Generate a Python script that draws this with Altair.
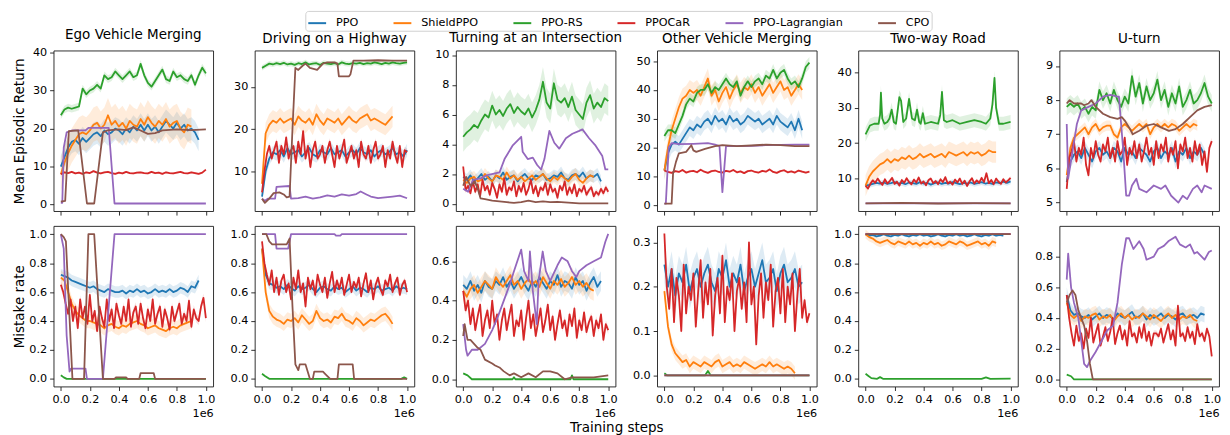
import altair as alt
import numpy as np
import pandas as pd

SERIES = ["PPO", "ShieldPPO", "PPO-RS", "PPOCaR", "PPO-Lagrangian", "CPO"]
COLORS = ["#1f77b4", "#ff7f0e", "#2ca02c", "#d62728", "#9467bd", "#8c564b"]
TITLES = ["Ego Vehicle Merging", "Driving on a Highway", "Turning at an Intersection",
          "Other Vehicle Merging", "Two-way Road", "U-turn"]
ROW_LABELS = ["Mean Episodic Return", "Mistake rate"]
X_TICKS = [0.0, 0.2, 0.4, 0.6, 0.8, 1.0]

# ---------------- Ego Vehicle Merging ----------------
ego_ret_ppo = [10, 12.5, 15, 16.5, 17, 16, 17.5, 16.5, 17.5, 18.5, 19, 18, 19.5, 18.5, 19, 20, 19.5, 18.5, 20, 19,
               20.5, 19.5, 21, 19.5, 21, 19.5, 20.5, 19, 20.5, 22, 21, 20, 21.5, 20, 21, 19.5, 20, 19, 17]
ego_ret_shield = [8, 11, 13.5, 15.5, 17, 18.5, 19, 18.5, 19.5, 21, 21.5, 20, 21, 23.5, 21, 22, 20.5, 21.5, 20, 22,
                  21, 20.5, 22.5, 21, 23, 21.5, 20.5, 22, 21, 22.5, 20.5, 21.5, 22, 20, 19, 21, 20.5]
ego_ret_rs = [23.5, 25, 25.5, 25.2, 25.5, 25.8, 30.5, 29, 30, 30.5, 31.5, 30.5, 34, 33, 33.5, 35, 34, 33, 34, 35,
              33.5, 34, 37, 34, 32, 31, 32.5, 34, 35.5, 33, 32.5, 35, 33.5, 34, 33, 32.5, 34, 31.5, 34, 36, 34.5]
ego_ret_car = [8, 8.5, 8.3, 8.6, 8.2, 8.4, 8.1, 8.5, 8.3, 8.8, 8.4, 8.2, 8.5, 8.6, 8.3, 8.1, 8.4, 8.2, 8.6, 8.3,
               8.2, 8.4, 8.5, 8.3, 8.2, 8.6, 8.3, 8.4, 8.1, 8.5, 8.3, 8.2, 8.4, 8.6, 8.3, 8.2, 8.5, 8.3, 8.1, 8.4, 9.2]
ego_ret_lag_x = [0, 0.01, 0.02, 0.04, 0.08, 0.17, 0.19, 0.33, 0.37, 1.0]
ego_ret_lag_y = [0.5, 0.5, 15, 19, 19.5, 19.5, 20.2, 20.2, 0.3, 0.3]
ego_ret_cpo_x = [0, 0.03, 0.045, 0.055, 0.12, 0.18, 0.23, 0.29, 0.32, 0.4, 0.45, 0.5, 0.55, 0.6, 0.65, 0.7, 0.8, 0.9, 1.0]
ego_ret_cpo_y = [0.8, 1.0, 12, 19.3, 19.5, 0.3, 0.3, 19, 19.5, 19.8, 19.6, 20.3, 19.5, 18.6, 18.8, 19.5, 19.8, 19.6, 19.8]

ego_mis_ppo = [0.72, 0.71, 0.7, 0.68, 0.67, 0.66, 0.65, 0.64, 0.63, 0.64, 0.62, 0.61, 0.6, 0.62, 0.61, 0.6, 0.6, 0.61,
               0.59, 0.61, 0.6, 0.62, 0.6, 0.61, 0.59, 0.6, 0.62, 0.6, 0.61, 0.6, 0.62, 0.6, 0.61, 0.63, 0.62, 0.6,
               0.64, 0.63, 0.68]
ego_mis_shield = [0.7, 0.68, 0.6, 0.52, 0.47, 0.44, 0.42, 0.4, 0.4, 0.39, 0.38, 0.37, 0.35, 0.37, 0.38, 0.36, 0.35,
                  0.37, 0.36, 0.38, 0.39, 0.4, 0.38, 0.37, 0.35, 0.36, 0.37, 0.35, 0.34, 0.33, 0.35, 0.36, 0.35, 0.37,
                  0.38, 0.39, 0.4]
ego_mis_car = [0.65, 0.6, 0.52, 0.45, 0.55, 0.4, 0.5, 0.35, 0.55, 0.42, 0.5, 0.38, 0.58, 0.4, 0.47, 0.33, 0.5, 0.42,
               0.36, 0.55, 0.4, 0.48, 0.35, 0.52, 0.44, 0.38, 0.5, 0.4, 0.55, 0.36, 0.46, 0.5, 0.38, 0.52, 0.42, 0.35,
               0.48, 0.4, 0.55, 0.38, 0.45, 0.5, 0.36, 0.48, 0.42, 0.34, 0.5, 0.4, 0.46, 0.52, 0.38, 0.45, 0.4, 0.54,
               0.36, 0.48, 0.42, 0.4, 0.5, 0.56, 0.42]
ego_mis_rs_x = [0, 0.02, 0.04, 1.0]
ego_mis_rs_y = [0.025, 0.01, 0.0, 0.0]
ego_mis_lag_x = [0, 0.02, 0.04, 0.06, 0.07, 0.17, 0.18, 0.29, 0.37, 1.0]
ego_mis_lag_y = [1.0, 0.9, 0.3, 0.05, 0.07, 0.07, 0.0, 0.0, 1.0, 1.0]
ego_mis_cpo_x = [0, 0.02, 0.035, 0.08, 0.16, 0.19, 0.23, 0.29, 0.37, 0.38, 0.45, 0.46, 0.54, 0.55, 0.64, 0.65, 1.0]
ego_mis_cpo_y = [1.0, 0.98, 0.95, 0.0, 0.0, 1.0, 1.0, 0.0, 0.0, 0.01, 0.01, 0.0, 0.0, 0.04, 0.04, 0.0, 0.0]

# ---------------- Driving on a Highway ----------------
hw_ret_ppo = [4, 10, 13, 14.5, 14, 15, 13.5, 15.5, 14, 14.5, 15, 13.5, 14.5, 15.5, 14, 13.5, 15, 14.5, 14, 15.5,
              14, 14.5, 15, 13.5, 14.5, 15, 14, 15.5, 14.5, 14, 15, 13.5, 14.5, 15, 14, 14.5, 15.5, 14, 14.5, 13.5, 15]
hw_ret_shield = [7, 19, 21, 22, 21.5, 22.5, 21.5, 22, 22.5, 21, 23, 22, 21.5, 22.5, 21, 23.5, 22, 21, 22.5, 22,
                 21.5, 22.5, 21, 22, 23, 22, 21.5, 22.5, 23, 23.5, 22, 22.5, 22, 21.5, 21, 22, 23]
hw_ret_rs = [34.5, 35, 35.5, 35.3, 35.6, 35.4, 35.7, 35.3, 35.5, 35.2, 35.6, 35.4, 35.8, 35.3, 35.5, 35.6, 35.2,
             35.7, 35.5, 35.4, 35.6, 35.3, 35.8, 35.5, 35.4, 35.6, 35.5, 35.7, 35.4, 35.6, 35.5, 35.8, 35.6, 35.4,
             35.7, 35.5, 35.8, 35.6, 35.5, 35.7, 35.8]
hw_ret_car = [5, 10, 14, 16, 13, 15, 17, 12, 16, 14, 18, 13, 15, 16, 12, 17, 14, 19.5, 13, 16, 11, 15, 17, 13, 14,
              16, 12, 15, 17, 14, 11, 16, 13, 15, 17.5, 12, 14, 16, 13, 15, 11, 17, 14, 13, 16, 12, 15, 17, 13, 14,
              16, 11, 15, 13, 17, 14, 12, 16, 11, 15, 14.5]
hw_ret_lag_x = [0, 0.02, 0.04, 0.09, 0.1, 0.19, 0.2, 0.25, 0.3, 0.35, 0.4, 0.45, 0.5, 0.55, 0.6, 0.65, 0.68, 0.72,
                0.75, 0.8, 0.85, 0.9, 0.95, 1.0]
hw_ret_lag_y = [3.5, 3, 3.5, 3.5, 6.3, 6.5, 3.5, 3.6, 4, 3.5, 3.8, 4.3, 4, 4.5, 4.2, 4.6, 5.2, 4.5, 4, 3.6, 3.8,
                4, 4.2, 3.6]
hw_ret_cpo_x = [0, 0.02, 0.05, 0.08, 0.12, 0.15, 0.17, 0.19, 0.21, 0.23, 0.25, 0.28, 0.3, 0.33, 0.38, 0.42, 0.45,
                0.5, 0.52, 0.53, 0.6, 0.61, 0.63, 0.7, 0.8, 0.9, 1.0]
hw_ret_cpo_y = [3.5, 2.5, 3.5, 4.8, 5, 4.5, 3.8, 4, 20, 34.5, 34, 35, 35.5, 34.5, 34, 35.5, 35.8, 35.8, 35.5, 32.5,
                32.5, 33, 36.2, 36.2, 36.3, 36.2, 36.2]

hw_mis_ppo = [0.9, 0.72, 0.66, 0.65, 0.63, 0.64, 0.62, 0.65, 0.63, 0.61, 0.64, 0.62, 0.63, 0.65, 0.62, 0.6, 0.63,
              0.64, 0.62, 0.61, 0.64, 0.62, 0.63, 0.6, 0.62, 0.64, 0.61, 0.63, 0.62, 0.6, 0.63, 0.62, 0.64, 0.61,
              0.62, 0.63, 0.61, 0.64, 0.62, 0.63, 0.62]
hw_mis_shield = [0.9, 0.6, 0.47, 0.43, 0.41, 0.4, 0.38, 0.41, 0.4, 0.42, 0.39, 0.44, 0.41, 0.38, 0.4, 0.47, 0.42,
                 0.4, 0.41, 0.39, 0.43, 0.42, 0.45, 0.41, 0.4, 0.38, 0.42, 0.4, 0.37, 0.39, 0.41, 0.4, 0.42, 0.44,
                 0.45, 0.42, 0.38]
hw_mis_car = [0.95, 0.8, 0.72, 0.65, 0.75, 0.6, 0.7, 0.58, 0.68, 0.72, 0.6, 0.66, 0.55, 0.7, 0.62, 0.75, 0.6, 0.66,
              0.5, 0.7, 0.62, 0.68, 0.58, 0.72, 0.65, 0.6, 0.7, 0.56, 0.66, 0.74, 0.6, 0.68, 0.62, 0.7, 0.58, 0.65,
              0.72, 0.6, 0.67, 0.63, 0.7, 0.57, 0.66, 0.73, 0.6, 0.68, 0.55, 0.65, 0.7, 0.62, 0.58, 0.68, 0.64, 0.72,
              0.6, 0.66, 0.7, 0.58, 0.65, 0.68, 0.6]
hw_mis_rs_x = [0, 0.02, 0.05, 0.96, 0.98, 1.0]
hw_mis_rs_y = [0.035, 0.02, 0.0, 0.0, 0.01, 0.0]
hw_mis_lag_x = [0, 0.09, 0.1, 0.18, 0.2, 0.5, 0.51, 0.54, 0.55, 1.0]
hw_mis_lag_y = [1.0, 1.0, 0.9, 0.9, 1.0, 1.0, 0.99, 0.99, 1.0, 1.0]
hw_mis_cpo_x = [0, 0.03, 0.05, 0.07, 0.17, 0.19, 0.21, 0.23, 0.25, 0.26, 0.3, 0.33, 0.35, 0.36, 0.42, 0.44, 0.47,
                0.52, 0.53, 0.625, 0.635, 1.0]
hw_mis_cpo_y = [1.0, 1.0, 0.95, 0.93, 0.93, 0.97, 0.5, 0.1, 0.06, 0.1, 0.1, 0.0, 0.0, 0.05, 0.05, 0.03, 0.0, 0.0,
                0.1, 0.1, 0.0, 0.0]

# ---------------- Turning at an Intersection ----------------
int_ret_ppo = [1.8, 1.6, 1.9, 1.5, 1.7, 2.0, 1.6, 1.8, 1.5, 1.9, 1.7, 2.1, 1.6, 1.8, 1.9, 1.5, 1.8, 2.0, 1.7, 1.6,
               1.9, 1.8, 2.0, 1.6, 1.7, 1.9, 1.8, 2.1, 1.7, 1.6, 1.9, 2.0, 1.8, 2.1, 1.7, 1.9, 1.8, 2.0, 1.5]
int_ret_shield = [1.6, 1.4, 1.7, 1.8, 1.5, 1.6, 2.0, 1.7, 1.5, 1.9, 1.8, 1.6, 2.1, 1.7, 1.9, 1.6, 1.8, 1.5, 1.7,
                  1.9, 1.6, 1.8, 2.0, 1.7, 1.5, 1.8, 1.6, 1.9, 1.7, 1.5, 1.8, 2.0, 1.6, 1.4, 1.7, 1.9, 1.8]
int_ret_rs = [4.5, 4.8, 5.0, 5.3, 5.1, 5.6, 6.0, 5.8, 6.6, 6.0, 6.3, 5.9, 6.4, 6.7, 6.1, 6.5, 6.2, 6.0, 6.4, 5.8,
              6.3, 7.0, 8.2, 6.8, 6.4, 8.1, 7.0, 6.8, 7.1, 6.5, 7.2, 6.3, 6.0, 5.7, 6.8, 7.3, 6.4, 6.8, 6.5, 7.1, 6.9]
int_ret_car = [2.5, 0.9, 1.2, 0.7, 1.5, 0.8, 1.3, 0.5, 1.6, 0.9, 1.2, 0.6, 1.4, 1.0, 0.4, 1.3, 0.8, 1.7, 0.6, 1.1,
               0.9, 1.5, 0.5, 1.2, 0.8, 1.4, 0.6, 1.0, 1.6, 0.7, 1.2, 0.5, 1.1, 0.9, 1.4, 0.6, 1.3, 0.8, 1.0, 0.4,
               1.2, 0.9, 1.5, 0.6, 1.1, 0.7, 1.3, 0.5, 1.0, 0.8, 1.2, 0.6, 0.9, 1.1, 0.5, 0.8, 0.6, 1.0, 0.7, 1.1, 0.8]
int_ret_lag_x = [0, 0.034, 0.068, 0.12, 0.16, 0.25, 0.285, 0.34, 0.4, 0.41, 0.445, 0.48, 0.51, 0.537, 0.56, 0.594,
                 0.628, 0.662, 0.708, 0.753, 0.8, 0.822, 0.868, 0.913, 0.959, 0.98, 1.0]
int_ret_lag_y = [1.0, 0.8, 1.6, 1.7, 1.9, 2.1, 3.0, 3.9, 4.5, 3.5, 3.0, 3.1, 2.6, 2.3, 3.0, 4.9, 4.1, 3.7, 4.4, 4.7,
                 4.9, 5.0, 4.4, 3.9, 3.2, 2.3, 2.3]
int_ret_cpo_x = [0, 0.02, 0.05, 0.08, 0.1, 0.12, 0.15, 0.2, 0.25, 0.3, 0.35, 0.4, 0.45, 0.5, 0.55, 0.6, 0.65, 0.7,
                 0.75, 0.8, 0.9, 1.0]
int_ret_cpo_y = [1.2, 1.8, 1.2, 1.5, 1.0, 0.35, 0.3, 0.2, 0.15, 0.1, 0.05, 0.1, 0.2, 0.1, 0.15, 0.1, 0.12, 0.08,
                 0.05, 0.02, 0.02, 0.02]

int_mis_ppo = [0.48, 0.46, 0.5, 0.45, 0.48, 0.44, 0.5, 0.47, 0.46, 0.5, 0.48, 0.52, 0.47, 0.5, 0.46, 0.49, 0.52,
               0.48, 0.45, 0.5, 0.47, 0.52, 0.49, 0.46, 0.5, 0.48, 0.53, 0.47, 0.5, 0.49, 0.46, 0.52, 0.48, 0.5,
               0.45, 0.49, 0.52, 0.47, 0.5]
int_mis_shield = [0.45, 0.42, 0.46, 0.48, 0.44, 0.47, 0.5, 0.48, 0.46, 0.52, 0.49, 0.47, 0.5, 0.53, 0.48, 0.5,
                  0.46, 0.49, 0.51, 0.48, 0.5, 0.47, 0.52, 0.49, 0.46, 0.5, 0.48, 0.51, 0.47, 0.49, 0.52, 0.48, 0.5,
                  0.47, 0.49, 0.46, 0.45]
int_mis_car = [0.45, 0.35, 0.4, 0.28, 0.36, 0.25, 0.32, 0.38, 0.22, 0.3, 0.35, 0.26, 0.4, 0.28, 0.33, 0.2, 0.3,
               0.36, 0.25, 0.32, 0.38, 0.22, 0.3, 0.27, 0.35, 0.2, 0.31, 0.4, 0.26, 0.33, 0.22, 0.29, 0.36, 0.24,
               0.3, 0.38, 0.25, 0.32, 0.2, 0.28, 0.35, 0.26, 0.3, 0.22, 0.33, 0.27, 0.36, 0.21, 0.3, 0.25, 0.34,
               0.24, 0.29, 0.32, 0.22, 0.3, 0.26, 0.33, 0.2, 0.28, 0.25]
int_mis_rs_x = [0, 0.03, 0.06, 0.34, 0.35, 0.36, 0.74, 0.75, 0.76, 1.0]
int_mis_rs_y = [0.03, 0.02, 0.0, 0.0, 0.01, 0.0, 0.0, 0.02, 0.0, 0.0]
int_mis_lag_x = [0, 0.02, 0.03, 0.06, 0.1, 0.15, 0.2, 0.24, 0.28, 0.32, 0.35, 0.4, 0.42, 0.45, 0.46, 0.48, 0.507,
                 0.52, 0.548, 0.57, 0.6, 0.65, 0.68, 0.72, 0.75, 0.78, 0.8, 0.85, 0.9, 0.95, 0.98, 1.0]
int_mis_lag_y = [0.28, 0.15, 0.12, 0.15, 0.15, 0.18, 0.25, 0.32, 0.4, 0.48, 0.55, 0.66, 0.55, 0.5, 0.65, 0.45,
                 0.28, 0.5, 0.65, 0.55, 0.5, 0.58, 0.62, 0.6, 0.55, 0.52, 0.55, 0.58, 0.6, 0.62, 0.7, 0.74]
int_mis_cpo_x = [0, 0.01, 0.03, 0.05, 0.1, 0.12, 0.15, 0.2, 0.22, 0.25, 0.28, 0.32, 0.35, 0.4, 0.45, 0.5, 0.55,
                 0.6, 0.65, 0.7, 0.75, 0.8, 0.9, 1.0]
int_mis_cpo_y = [0.22, 0.28, 0.2, 0.2, 0.16, 0.15, 0.1, 0.08, 0.07, 0.06, 0.04, 0.02, 0.03, 0.01, 0.03, 0.01, 0.04,
                 0.04, 0.03, 0.0, 0.01, 0.01, 0.01, 0.02]

# ---------------- Other Vehicle Merging ----------------
om_ret_ppo = [12, 18, 21, 22, 21, 23, 25, 27, 26, 28, 27, 29, 30, 28, 31, 29, 30, 28, 31, 29, 30, 28, 29, 31, 30,
              29, 30, 28, 29, 30, 28, 31, 29, 28, 27, 29, 26, 30, 26]
om_ret_shield = [12, 20, 26, 30, 34, 37, 38, 40, 39, 40, 38, 41, 44, 38, 40, 36, 39, 41, 37, 40, 42, 39, 41, 40,
                 42, 39, 41, 38, 40, 42, 39, 41, 43, 40, 41, 38, 40, 42, 40]
om_ret_rs = [24, 26, 26, 25, 28, 31, 35, 37, 36, 39, 40, 40, 42, 39, 41, 40, 42, 44, 42, 41, 43, 38, 41, 43, 41,
             43, 44, 42, 45, 44, 47, 44, 46, 47, 44, 42, 43, 41, 44, 48, 49.5]
om_ret_car = [12, 11.5, 11.2, 11.8, 11.5, 12.2, 11.3, 11.7, 11.9, 11.4, 12.3, 11.6, 11.2, 11.8, 12.0, 11.5, 11.3,
              11.9, 11.6, 12.2, 11.4, 11.7, 11.1, 11.8, 12.0, 11.5, 11.3, 11.9, 11.6, 12.4, 11.5, 11.2, 11.8, 12.1,
              11.4, 11.7, 11.3, 12.0, 11.6, 11.3, 11.6]
om_ret_lag_x = [0, 0.01, 0.03, 0.05, 0.1, 0.2, 0.3, 0.35, 0.38, 0.4, 0.425, 0.5, 0.6, 0.7, 0.8, 0.9, 1.0]
om_ret_lag_y = [0.5, 0.5, 20, 21.5, 21.2, 21.3, 21.5, 21, 20.5, 4.5, 20.5, 20.5, 20.6, 20.8, 20.9, 21, 21]
om_ret_cpo_x = [0, 0.05, 0.06, 0.08, 0.1, 0.15, 0.186, 0.2, 0.22, 0.28, 0.35, 0.4, 0.5, 0.6, 0.7, 0.8, 0.9, 1.0]
om_ret_cpo_y = [0.5, 0.5, 11, 15, 18, 18.5, 20.8, 19, 18.5, 19.5, 20.5, 20.8, 20.5, 20.7, 21, 20.8, 20.5, 20.5]

om_mis_ppo = [0.25, 0.2, 0.24, 0.18, 0.23, 0.21, 0.25, 0.19, 0.22, 0.24, 0.2, 0.23, 0.25, 0.21, 0.19, 0.24, 0.22,
              0.26, 0.2, 0.23, 0.21, 0.25, 0.19, 0.22, 0.24, 0.2, 0.23, 0.26, 0.21, 0.22, 0.24, 0.19, 0.23, 0.25,
              0.21, 0.22, 0.24, 0.2, 0.21]
om_mis_shield = [0.19, 0.11, 0.07, 0.05, 0.04, 0.03, 0.035, 0.02, 0.03, 0.025, 0.02, 0.03, 0.025, 0.02, 0.03,
                 0.035, 0.02, 0.025, 0.03, 0.02, 0.025, 0.02, 0.03, 0.025, 0.02, 0.015, 0.02, 0.025, 0.02, 0.03,
                 0.02, 0.025, 0.02, 0.015, 0.02, 0.015, 0.005]
om_mis_car = [0.32, 0.2, 0.15, 0.24, 0.12, 0.22, 0.18, 0.1, 0.25, 0.14, 0.2, 0.17, 0.23, 0.11, 0.19, 0.26, 0.13,
              0.21, 0.16, 0.24, 0.09, 0.18, 0.22, 0.14, 0.27, 0.12, 0.2, 0.17, 0.23, 0.1, 0.19, 0.22, 0.15, 0.21,
              0.12, 0.3, 0.16, 0.2, 0.07, 0.18, 0.23, 0.13, 0.21, 0.17, 0.25, 0.11, 0.19, 0.22, 0.14, 0.24, 0.12,
              0.2, 0.16, 0.23, 0.1, 0.18, 0.24, 0.13, 0.17, 0.12, 0.14]
om_mis_rs_x = [0, 0.02, 0.04, 0.28, 0.3, 0.32, 1.0]
om_mis_rs_y = [0.005, 0.0, 0.0, 0.0, 0.01, 0.0, 0.0]
om_mis_lag_x = [0, 1.0]
om_mis_lag_y = [0.0, 0.0]
om_mis_cpo_x = [0, 1.0]
om_mis_cpo_y = [0.0, 0.0]

# ---------------- Two-way Road ----------------
tw_ret_ppo = [8, 8.2, 8.5, 8.8, 8.6, 8.9, 8.5, 8.7, 9.0, 8.6, 8.8, 8.4, 8.9, 8.7, 8.5, 9.0, 8.6, 8.8, 8.3, 8.7,
              8.9, 8.5, 8.8, 8.6, 9.0, 8.7, 8.4, 8.8, 8.6, 8.9, 8.5, 8.7, 9.0, 8.6, 8.8, 8.5, 8.9, 8.7, 9.1, 8.8, 9.2]
tw_ret_shield = [8, 10.5, 12, 13, 14, 14.5, 15.5, 14.5, 15.5, 15, 16, 15.5, 16.5, 15.5, 16, 17, 16, 16.5, 17, 16,
                 16.5, 17, 16, 17.5, 17, 16.5, 17, 17.5, 16.5, 17.5, 17, 17.5, 16.5, 17, 18, 17.5, 17.5]
tw_ret_rs_x = [0, 0.03, 0.06, 0.09, 0.1, 0.106, 0.115, 0.13, 0.15, 0.165, 0.18, 0.195, 0.21, 0.233, 0.245, 0.26,
               0.28, 0.3, 0.32, 0.34, 0.355, 0.37, 0.38, 0.395, 0.41, 0.45, 0.5, 0.515, 0.527, 0.54, 0.56, 0.6,
               0.65, 0.7, 0.75, 0.8, 0.83, 0.86, 0.875, 0.889, 0.9, 0.92, 0.95, 1.0]
tw_ret_rs_y = [22.5, 25, 25.5, 25.5, 28, 34.3, 27, 25.5, 26, 27, 29.5, 26, 25.5, 33, 32, 26, 27, 32.5, 27, 26.5,
               29.5, 26, 25.5, 28.5, 25.5, 26, 25.5, 28, 34.5, 26.5, 26, 26.5, 25.5, 26, 26.5, 26, 25.5, 27, 31,
               38.5, 30, 25.5, 25.5, 26]
tw_ret_car = [8, 7.2, 8.5, 9.5, 8.8, 10, 9, 8.2, 9.8, 8.6, 9.3, 10.2, 8.5, 9.1, 8.0, 9.6, 8.8, 10.1, 9.0, 8.4,
              9.7, 8.9, 10.3, 8.6, 9.2, 8.1, 9.5, 10.0, 8.7, 9.3, 8.4, 9.8, 9.0, 10.4, 8.6, 9.1, 8.3, 9.7, 8.9,
              10.0, 8.5, 9.4, 7.9, 9.2, 10.1, 8.6, 9.5, 8.8, 10.2, 9.0, 11.5, 8.7, 9.6, 8.4, 10.0, 9.1, 8.5, 9.8,
              8.9, 9.5, 10.2]
tw_ret_lag_x = [0, 0.5, 1.0]
tw_ret_lag_y = [3.0, 3.0, 3.0]
tw_ret_cpo_x = [0, 0.25, 0.5, 0.75, 1.0]
tw_ret_cpo_y = [3.0, 3.1, 2.95, 3.05, 3.0]

tw_mis_ppo = [1.0, 0.99, 0.995, 0.985, 0.99, 1.0, 0.99, 0.985, 0.995, 0.99, 1.0, 0.99, 0.985, 0.995, 0.99, 1.0,
              0.99, 0.995, 0.985, 0.99, 1.0, 0.99, 0.985, 0.995, 0.99, 1.0, 0.99, 0.995, 0.985, 0.99, 1.0, 0.99,
              0.985, 0.995, 0.99, 1.0, 0.99, 0.995, 0.99]
tw_mis_shield = [1.0, 0.98, 0.97, 0.95, 0.94, 0.95, 0.96, 0.94, 0.93, 0.95, 0.94, 0.93, 0.95, 0.93, 0.94, 0.92,
                 0.94, 0.93, 0.95, 0.93, 0.94, 0.92, 0.93, 0.95, 0.94, 0.93, 0.95, 0.94, 0.92, 0.93, 0.94, 0.95,
                 0.93, 0.94, 0.92, 0.95, 0.94]
tw_mis_rs_x = [0, 0.02, 0.04, 0.08, 0.1, 0.12, 0.8, 0.83, 0.86, 1.0]
tw_mis_rs_y = [0.035, 0.02, 0.005, 0.0, 0.012, 0.0, 0.0, 0.01, 0.0, 0.002]
tw_mis_car_x = [0, 1.0]
tw_mis_car_y = [1.0, 1.0]
tw_mis_lag_x = [0, 1.0]
tw_mis_lag_y = [1.0, 1.0]
tw_mis_cpo_x = [0, 1.0]
tw_mis_cpo_y = [1.0, 1.0]

# ---------------- U-turn ----------------
ut_ret_ppo = [5.6, 6.2, 6.4, 6.5, 6.3, 6.6, 6.4, 6.2, 6.5, 6.6, 6.4, 6.5, 6.3, 6.6, 6.5, 6.2, 6.6, 6.4, 6.5, 6.3,
              6.6, 6.5, 6.4, 6.2, 6.5, 6.6, 6.3, 6.5, 6.4, 6.6, 6.2, 6.5, 6.4, 6.6, 6.3, 6.5, 6.4, 6.6, 6.4]
ut_ret_shield = [5.8, 6.6, 6.9, 7.0, 7.1, 7.2, 7.0, 7.2, 7.3, 7.1, 7.2, 7.25, 7.25, 7.0, 6.9, 7.2, 7.3, 7.2, 7.1,
                 7.2, 7.3, 7.2, 7.3, 7.0, 7.2, 7.3, 7.2, 7.3, 7.2, 7.3, 7.25, 7.1, 7.2, 7.3, 7.2, 7.3, 7.25]
ut_ret_rs = [7.8, 7.9, 7.8, 7.9, 7.7, 7.8, 7.6, 7.8, 7.7, 8.3, 8.0, 8.2, 7.9, 8.3, 8.0, 7.8, 8.1, 7.9, 8.7, 8.1,
             8.5, 7.9, 8.4, 8.0, 8.2, 8.6, 8.0, 8.3, 7.8, 8.2, 7.9, 8.4, 7.8, 8.0, 8.3, 7.9, 8.0, 8.2, 8.5, 8.1, 7.9]
ut_ret_car = [5.4, 6.3, 6.5, 6.8, 6.2, 6.6, 6.4, 6.9, 6.1, 5.8, 6.6, 6.3, 6.8, 6.4, 6.2, 6.7, 6.5, 6.9, 6.3, 6.6,
              6.2, 6.8, 6.4, 6.5, 6.9, 6.1, 6.6, 6.4, 6.8, 6.3, 6.7, 6.2, 6.5, 6.9, 6.4, 6.6, 6.1, 6.8, 6.3, 6.7,
              6.5, 6.9, 6.2, 6.6, 6.4, 6.8, 6.0, 6.7, 6.5, 6.9, 6.3, 6.6, 6.2, 6.8, 6.4, 6.7, 6.1, 6.5, 5.9, 6.6, 6.8]
ut_ret_lag_x = [0, 0.01, 0.04, 0.07, 0.1, 0.15, 0.2, 0.25, 0.3, 0.35, 0.36, 0.39, 0.41, 0.43, 0.45, 0.48, 0.5,
                0.55, 0.6, 0.65, 0.68, 0.72, 0.77, 0.8, 0.83, 0.87, 0.9, 0.93, 0.95, 1.0]
ut_ret_lag_y = [7.3, 5.7, 6.5, 7.3, 7.7, 7.8, 7.9, 8.1, 8.15, 8.1, 8.1, 6.5, 5.2, 5.2, 5.5, 5.7, 5.4, 5.3, 5.5,
                5.4, 5.5, 5.2, 5.0, 5.2, 5.1, 5.4, 5.5, 5.3, 5.5, 5.4]
ut_ret_cpo_x = [0, 0.02, 0.05, 0.1, 0.12, 0.15, 0.17, 0.2, 0.25, 0.3, 0.35, 0.38, 0.4, 0.43, 0.455, 0.5, 0.55,
                0.6, 0.65, 0.705, 0.75, 0.8, 0.85, 0.9, 0.95, 1.0]
ut_ret_cpo_y = [7.9, 8.0, 7.9, 7.9, 7.85, 7.9, 8.0, 7.8, 7.6, 7.5, 7.45, 7.5, 7.4, 7.2, 7.0, 7.1, 7.25, 7.3, 7.2,
                7.1, 7.15, 7.3, 7.5, 7.7, 7.8, 7.85]

ut_mis_ppo = [0.55, 0.45, 0.42, 0.43, 0.41, 0.4, 0.42, 0.39, 0.41, 0.43, 0.4, 0.42, 0.41, 0.39, 0.43, 0.41, 0.4,
              0.42, 0.44, 0.4, 0.41, 0.43, 0.39, 0.42, 0.4, 0.41, 0.43, 0.4, 0.42, 0.41, 0.39, 0.42, 0.43, 0.4,
              0.41, 0.42, 0.4, 0.43, 0.42]
ut_mis_shield = [0.5, 0.42, 0.4, 0.42, 0.38, 0.41, 0.4, 0.42, 0.43, 0.39, 0.41, 0.4, 0.42, 0.38, 0.41, 0.43, 0.4,
                 0.42, 0.39, 0.41, 0.4, 0.43, 0.41, 0.39, 0.42, 0.4, 0.38, 0.41, 0.43, 0.4, 0.42, 0.39, 0.41, 0.4,
                 0.42, 0.39, 0.38]
ut_mis_car = [0.55, 0.4, 0.3, 0.22, 0.35, 0.25, 0.3, 0.2, 0.33, 0.27, 0.4, 0.24, 0.3, 0.36, 0.22, 0.28, 0.34,
              0.25, 0.31, 0.4, 0.23, 0.3, 0.35, 0.26, 0.32, 0.22, 0.38, 0.28, 0.3, 0.24, 0.34, 0.27, 0.36, 0.25,
              0.31, 0.22, 0.3, 0.3, 0.28, 0.33, 0.24, 0.3, 0.36, 0.26, 0.32, 0.22, 0.48, 0.28, 0.3, 0.25, 0.34,
              0.27, 0.31, 0.23, 0.36, 0.28, 0.3, 0.25, 0.33, 0.28, 0.15]
ut_mis_rs_x = [0, 0.03, 0.05, 1.0]
ut_mis_rs_y = [0.03, 0.02, 0.0, 0.0]
ut_mis_lag_x = [0, 0.01, 0.03, 0.05, 0.08, 0.1, 0.12, 0.14, 0.16, 0.2, 0.24, 0.28, 0.32, 0.35, 0.38, 0.41, 0.43,
                0.46, 0.5, 0.53, 0.55, 0.6, 0.63, 0.67, 0.7, 0.75, 0.78, 0.82, 0.85, 0.88, 0.9, 0.95, 0.98, 1.0]
ut_mis_lag_y = [0.65, 0.82, 0.6, 0.5, 0.4, 0.25, 0.1, 0.08, 0.12, 0.18, 0.25, 0.32, 0.35, 0.5, 0.75, 0.92, 0.92,
                0.85, 0.9, 0.85, 0.78, 0.8, 0.85, 0.87, 0.9, 0.93, 0.88, 0.86, 0.88, 0.82, 0.83, 0.78, 0.83, 0.84]
ut_mis_cpo_x = [0, 0.02, 0.04, 0.06, 0.08, 0.1, 0.12, 0.14, 0.16, 0.18, 1.0]
ut_mis_cpo_y = [0.5, 0.55, 0.58, 0.55, 0.45, 0.4, 0.35, 0.25, 0.1, 0.0, 0.0]


def ev(y, end, band=0.0):
    return (list(np.linspace(0.0, end, len(y))), y, band)


def xy(x, y, band=0.0):
    return (x, y, band)


UNIT = [0.0, 0.2, 0.4, 0.6, 0.8, 1.0]

PANELS = [
    # ---------- top row ----------
    dict(row=0, col=0, ydom=[-1.7, 40.5], yticks=[0, 10, 20, 30, 40], fmt="d", series={
        "PPO": ev(ego_ret_ppo, 0.95, 3.0), "ShieldPPO": ev(ego_ret_shield, 0.9, 4.5),
        "PPO-RS": ev(ego_ret_rs, 1.0, 1.0), "PPOCaR": ev(ego_ret_car, 1.0, 0.3),
        "PPO-Lagrangian": xy(ego_ret_lag_x, ego_ret_lag_y), "CPO": xy(ego_ret_cpo_x, ego_ret_cpo_y)}),
    dict(row=0, col=1, ydom=[0.55, 38.6], yticks=[10, 20, 30], fmt="d", series={
        "PPO": ev(hw_ret_ppo, 1.0, 1.5), "ShieldPPO": ev(hw_ret_shield, 0.9, 2.5),
        "PPO-RS": ev(hw_ret_rs, 1.0, 0.6), "PPOCaR": ev(hw_ret_car, 1.0, 0.8),
        "PPO-Lagrangian": xy(hw_ret_lag_x, hw_ret_lag_y), "CPO": xy(hw_ret_cpo_x, hw_ret_cpo_y)}),
    dict(row=0, col=2, ydom=[-0.5, 10.3], yticks=[0, 2, 4, 6, 8, 10], fmt="d", series={
        "PPO": ev(int_ret_ppo, 0.95, 0.4), "ShieldPPO": ev(int_ret_shield, 0.9, 0.4),
        "PPO-RS": ev(int_ret_rs, 1.0, 1.0), "PPOCaR": ev(int_ret_car, 1.0, 0.2),
        "PPO-Lagrangian": xy(int_ret_lag_x, int_ret_lag_y), "CPO": xy(int_ret_cpo_x, int_ret_cpo_y)}),
    dict(row=0, col=3, ydom=[-2.1, 53.7], yticks=[0, 10, 20, 30, 40, 50], fmt="d", series={
        "PPO": ev(om_ret_ppo, 0.95, 3.0), "ShieldPPO": ev(om_ret_shield, 0.95, 3.5),
        "PPO-RS": ev(om_ret_rs, 1.0, 2.0), "PPOCaR": ev(om_ret_car, 1.0, 0.4),
        "PPO-Lagrangian": xy(om_ret_lag_x, om_ret_lag_y), "CPO": xy(om_ret_cpo_x, om_ret_cpo_y)}),
    dict(row=0, col=4, ydom=[0.8, 46.2], yticks=[10, 20, 30, 40], fmt="d", series={
        "PPO": ev(tw_ret_ppo, 1.0, 0.8), "ShieldPPO": ev(tw_ret_shield, 0.9, 3.0),
        "PPO-RS": xy(tw_ret_rs_x, tw_ret_rs_y, 2.0), "PPOCaR": ev(tw_ret_car, 1.0, 0.5),
        "PPO-Lagrangian": xy(tw_ret_lag_x, tw_ret_lag_y), "CPO": xy(tw_ret_cpo_x, tw_ret_cpo_y)}),
    dict(row=0, col=5, ydom=[4.75, 9.45], yticks=[5, 6, 7, 8, 9], fmt="d", series={
        "PPO": ev(ut_ret_ppo, 0.95, 0.2), "ShieldPPO": ev(ut_ret_shield, 0.9, 0.15),
        "PPO-RS": ev(ut_ret_rs, 1.0, 0.25), "PPOCaR": ev(ut_ret_car, 1.0, 0.1),
        "PPO-Lagrangian": xy(ut_ret_lag_x, ut_ret_lag_y), "CPO": xy(ut_ret_cpo_x, ut_ret_cpo_y)}),
    # ---------- bottom row ----------
    dict(row=1, col=0, ydom=[-0.053, 1.057], yticks=UNIT, fmt=".1f", series={
        "PPO": ev(ego_mis_ppo, 0.95, 0.04), "ShieldPPO": ev(ego_mis_shield, 0.9, 0.05),
        "PPO-RS": xy(ego_mis_rs_x, ego_mis_rs_y), "PPOCaR": ev(ego_mis_car, 1.0, 0.03),
        "PPO-Lagrangian": xy(ego_mis_lag_x, ego_mis_lag_y), "CPO": xy(ego_mis_cpo_x, ego_mis_cpo_y)}),
    dict(row=1, col=1, ydom=[-0.053, 1.057], yticks=UNIT, fmt=".1f", series={
        "PPO": ev(hw_mis_ppo, 1.0, 0.04), "ShieldPPO": ev(hw_mis_shield, 0.9, 0.05),
        "PPO-RS": xy(hw_mis_rs_x, hw_mis_rs_y), "PPOCaR": ev(hw_mis_car, 1.0, 0.02),
        "PPO-Lagrangian": xy(hw_mis_lag_x, hw_mis_lag_y), "CPO": xy(hw_mis_cpo_x, hw_mis_cpo_y)}),
    dict(row=1, col=2, ydom=[-0.037, 0.78], yticks=[0.0, 0.2, 0.4, 0.6], fmt=".1f", series={
        "PPO": ev(int_mis_ppo, 0.95, 0.05), "ShieldPPO": ev(int_mis_shield, 0.9, 0.05),
        "PPO-RS": xy(int_mis_rs_x, int_mis_rs_y), "PPOCaR": ev(int_mis_car, 1.0, 0.02),
        "PPO-Lagrangian": xy(int_mis_lag_x, int_mis_lag_y), "CPO": xy(int_mis_cpo_x, int_mis_cpo_y)}),
    dict(row=1, col=3, ydom=[-0.025, 0.337], yticks=[0.0, 0.1, 0.2, 0.3], fmt=".1f", series={
        "PPO": ev(om_mis_ppo, 0.95, 0.04), "ShieldPPO": ev(om_mis_shield, 0.9, 0.015),
        "PPO-RS": xy(om_mis_rs_x, om_mis_rs_y), "PPOCaR": ev(om_mis_car, 1.0, 0.01),
        "PPO-Lagrangian": xy(om_mis_lag_x, om_mis_lag_y), "CPO": xy(om_mis_cpo_x, om_mis_cpo_y)}),
    dict(row=1, col=4, ydom=[-0.053, 1.057], yticks=UNIT, fmt=".1f", series={
        "PPO": ev(tw_mis_ppo, 0.95, 0.01), "ShieldPPO": ev(tw_mis_shield, 0.9, 0.03),
        "PPO-RS": xy(tw_mis_rs_x, tw_mis_rs_y), "PPOCaR": xy(tw_mis_car_x, tw_mis_car_y),
        "PPO-Lagrangian": xy(tw_mis_lag_x, tw_mis_lag_y), "CPO": xy(tw_mis_cpo_x, tw_mis_cpo_y)}),
    dict(row=1, col=5, ydom=[-0.047, 1.0], yticks=[0.0, 0.2, 0.4, 0.6, 0.8], fmt=".1f", series={
        "PPO": ev(ut_mis_ppo, 0.95, 0.05), "ShieldPPO": ev(ut_mis_shield, 0.9, 0.05),
        "PPO-RS": xy(ut_mis_rs_x, ut_mis_rs_y), "PPOCaR": ev(ut_mis_car, 1.0, 0.02),
        "PPO-Lagrangian": xy(ut_mis_lag_x, ut_mis_lag_y), "CPO": xy(ut_mis_cpo_x, ut_mis_cpo_y)}),
]

FONT = "DejaVu Sans"
W, H = 161, 162

color_scale = alt.Scale(domain=SERIES, range=COLORS)
# same mapping, listed in reverse so the band colours keep a scale (and legend) of their own
band_scale = alt.Scale(domain=SERIES[::-1], range=COLORS[::-1])
legend = alt.Legend(
    orient="none", legendX=254, legendY=-40, direction="horizontal", columns=6, title=None,
    labelFont=FONT, labelFontSize=11.3, labelColor="black", labelOffset=9, columnPadding=31,
    symbolType="stroke", symbolSize=324, symbolStrokeWidth=2, padding=2,
    strokeColor="#d0d0d0", fillColor="white", cornerRadius=3, labelLimit=200,
)


def frames(series):
    rows, brows = [], []
    for k, name in enumerate(SERIES):
        xs, ys, b = series[name]
        for i, (xv, yv) in enumerate(zip(xs, ys)):
            rows.append({"x": float(xv), "y": float(yv), "s": name, "k": k, "i": i})
            if b > 0:
                brows.append({"x": float(xv), "lo": float(yv) - b, "hi": float(yv) + b, "s": name, "k": k})
    return pd.DataFrame(rows), pd.DataFrame(brows)


cells = []
for p in PANELS:
    df, bdf = frames(p["series"])
    xscale = alt.Scale(domain=[-0.05, 1.05], nice=False, zero=False)
    yscale = alt.Scale(domain=p["ydom"], nice=False, zero=False)
    if p["row"] == 1:
        xaxis = alt.Axis(values=X_TICKS, format=".1f", title="1e6", titleX=W, titleY=30,
                         titleAlign="right", titleBaseline="alphabetic", titleFontSize=11.3,
                         titleFontWeight="normal", titleFont=FONT, titleColor="black", labelFlush=False)
    else:
        xaxis = alt.Axis(values=X_TICKS, labels=False, title=None)
    yaxis = alt.Axis(values=p["yticks"], format=p["fmt"],
                     title=ROW_LABELS[p["row"]] if p["col"] == 0 else None,
                     titleFontSize=13.6, titleFontWeight="normal", titleFont=FONT, titleColor="black",
                     titlePadding=3, minExtent=24, maxExtent=24)
    band = alt.Chart(bdf).mark_area(opacity=0.15, clip=True).encode(
        x=alt.X("x:Q", scale=xscale, axis=xaxis),
        y=alt.Y("lo:Q", scale=yscale, axis=yaxis),
        y2="hi:Q",
        fill=alt.Fill("s:N", scale=band_scale, legend=None),
    )
    line = alt.Chart(df).mark_line(strokeWidth=1.8, clip=True, strokeJoin="round").encode(
        x=alt.X("x:Q", scale=xscale, axis=xaxis),
        y=alt.Y("y:Q", scale=yscale, axis=yaxis),
        color=alt.Color("s:N", scale=color_scale, legend=legend),
        order=alt.Order("i:Q"),
    )
    layer = alt.layer(band, line).properties(width=W, height=H)
    if p["row"] == 0:
        layer = layer.properties(title=alt.TitleParams(
            TITLES[p["col"]], fontSize=13.6, fontWeight="normal", font=FONT, color="black",
            offset=6, dy=12, baseline="alphabetic", anchor="middle"))
    cells.append(layer)

chart = alt.concat(*cells, columns=6, spacing={"row": 15, "column": 42}, bounds="flush").resolve_scale(
    x="independent", y="independent", color="shared"
).properties(
    title=alt.TitleParams("Training steps", orient="bottom", anchor="middle", fontSize=13.6,
                          fontWeight="normal", font=FONT, color="black", offset=2),
    padding={"left": 4, "top": 0, "right": 0, "bottom": 0},
).configure_view(
    stroke="#1a1a1a", strokeWidth=0.9
).configure_axis(
    grid=False, domain=False, ticks=True, tickSize=4, tickColor="#1a1a1a", tickWidth=0.9,
    labelFont=FONT, labelFontSize=11.3, labelColor="black", labelPadding=3
).configure_legend(
    symbolType="stroke"
)

chart.save("out.html", embed_options={"renderer": "svg", "actions": False})
